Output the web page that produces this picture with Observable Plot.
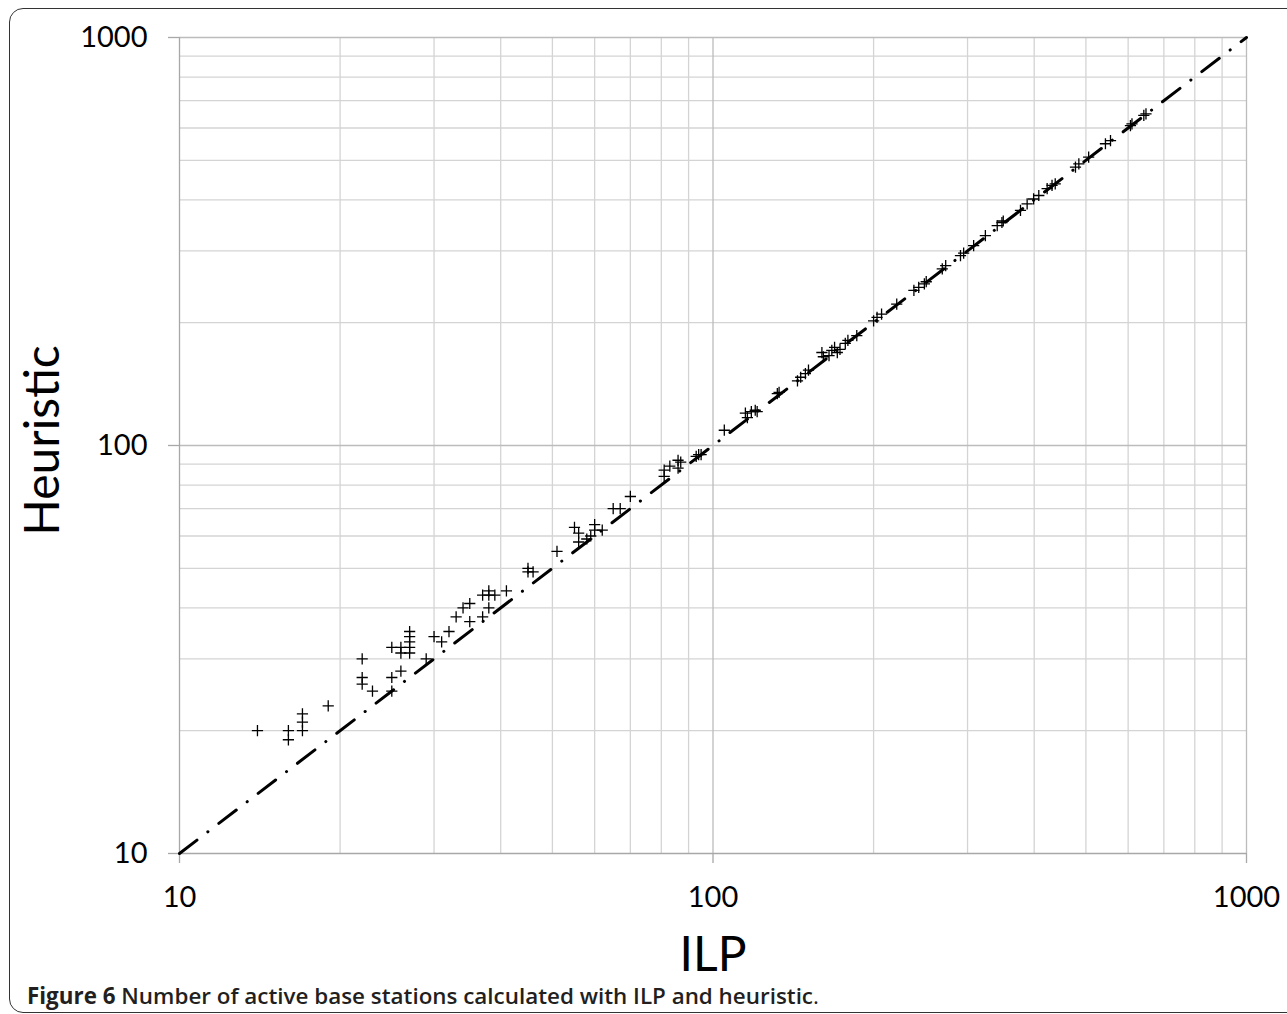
<!DOCTYPE html>
<html>
<head>
<meta charset="utf-8">
<script src="https://cdn.jsdelivr.net/npm/d3@7"></script>
<script src="https://cdn.jsdelivr.net/npm/@observablehq/plot@0.6"></script>
<style>
  html, body { margin: 0; padding: 0; background: #fff; width: 1287px; height: 1014px; overflow: hidden; }
  #frame { position: absolute; left: 9px; top: 8px; width: 1330px; height: 1005px; border: 1.5px solid #333; border-radius: 14px; box-sizing: border-box; }
  #chart { position: absolute; left: 0; top: 0; }
  #caption { position: absolute; left: 27px; top: 985px; font-family: "Open Sans", sans-serif; font-size: 22.4px; line-height: 22px; font-weight: 600; color: #231f20; white-space: nowrap; }
  #caption b { font-weight: 700; }
</style>
</head>
<body>
<div id="frame"></div>
<div id="chart"></div>
<div id="caption"><b>Figure 6</b> Number of active base stations calculated with ILP and heuristic<span style="font-weight:400">.</span></div>
<script>
const ilp = [
  14, 16, 16, 17, 17, 17, 19,
  22, 22, 22, 23,
  25, 26, 26, 27, 27, 27, 27, 27,
  26, 25, 25,
  29, 30, 31, 32, 33, 34, 35, 35, 37, 37, 38, 38, 38, 39, 41,
  45, 45, 46,
  51, 55, 56, 60, 60, 56, 58, 59, 62, 65, 67, 70,
  81, 81, 83, 86, 87, 86, 93, 94, 95,
  105, 115, 116, 118, 120, 121, 132, 133,
  144, 146, 149, 151, 160, 161, 165, 167, 169, 171, 173, 177, 179, 186,
  200, 203, 207, 221, 238, 243, 249, 251, 269, 273, 291, 295,
  308, 324, 341, 348, 350, 377, 388, 399, 408, 423, 432, 438, 478, 485, 506, 544, 556, 606, 610, 642, 648
];
const heuristic = [
  20, 20, 19, 20, 21, 22, 23,
  30, 27, 26, 25,
  32, 32, 31, 31, 32, 33, 34, 35,
  28, 27, 25,
  30, 34, 33, 35, 38, 40, 41, 37, 38, 43, 44, 43, 40, 43, 44,
  49, 50, 49,
  55, 63, 61, 64, 62, 58, 59, 60, 62, 70, 70, 75,
  87, 84, 89, 92, 91, 88, 94, 95, 95,
  109, 120, 117, 121, 122, 121, 134, 135,
  144, 147, 150, 153, 169, 165, 166, 171, 174, 169, 172, 178, 181, 186,
  202, 206, 210, 222, 240, 244, 249, 252, 271, 276, 292, 296,
  309, 327, 346, 352, 355, 377, 391, 402, 410, 426, 434, 438, 481, 490, 509, 549, 559, 608, 614, 644, 650
];
const minorTicks = [20, 30, 40, 50, 60, 70, 80, 90, 200, 300, 400, 500, 600, 700, 800, 900];
const majorTicks = [10, 100, 1000];
const refX = [10, 1000];
const refY = [10, 1000];
const xLabel = "ILP";
const yLabel = "Heuristic";

const points = ilp.map((x, i) => ({x, y: heuristic[i]}));
const ref = refX.map((x, i) => ({x, y: refY[i]}));

const chart = Plot.plot({
  width: 1287,
  height: 990,
  marginLeft: 179,
  marginRight: 41,
  marginTop: 37,
  marginBottom: 137,
  x: {type: "log", domain: [10, 1000]},
  y: {type: "log", domain: [10, 1000]},
  style: {fontFamily: "Lato, sans-serif", fontSize: "29px", background: "transparent", color: "black", overflow: "visible"},
  marks: [
    Plot.ruleX(minorTicks, {stroke: "#d4d4d4", strokeWidth: 1.3}),
    Plot.ruleY(minorTicks, {stroke: "#d4d4d4", strokeWidth: 1.3}),
    Plot.ruleX([100, 1000], {stroke: "#bcbcbc", strokeWidth: 1.3}),
    Plot.ruleY([100, 1000], {stroke: "#bcbcbc", strokeWidth: 1.3}),
    Plot.ruleX([10], {stroke: "#a8a8a8", strokeWidth: 1.3}),
    Plot.ruleY([10], {stroke: "#a8a8a8", strokeWidth: 1.3}),
    Plot.axisX({ticks: majorTicks, tickSize: 10, tickPadding: 23, tickFormat: d3.format("d"), label: null, stroke: "#a8a8a8", fill: "black", fontSize: 29, strokeWidth: 1.3}),
    Plot.axisY({ticks: majorTicks, tickSize: 11, tickPadding: 21, tickFormat: d3.format("d"), label: null, stroke: "#a8a8a8", fill: "black", fontSize: 29, strokeWidth: 1.3}),
    Plot.line(ref, {x: "x", y: "y", stroke: "black", strokeWidth: 3, strokeDasharray: "22 13.7 0.1 13.7", strokeLinecap: "round"}),
    Plot.dot(points, {x: "x", y: "y", symbol: "plus", r: 3.7, stroke: "black", strokeWidth: 1.3}),
    Plot.text([xLabel], {text: d => d, frameAnchor: "bottom", dy: 102, fontSize: 48, lineAnchor: "middle", textAnchor: "middle", fill: "black"}),
    Plot.text([yLabel], {text: d => d, frameAnchor: "left", dx: -136, dy: -5, rotate: -90, fontSize: 48, lineAnchor: "middle", textAnchor: "middle", fill: "black"})
  ]
});
document.getElementById("chart").appendChild(chart);
</script>
</body>
</html>
